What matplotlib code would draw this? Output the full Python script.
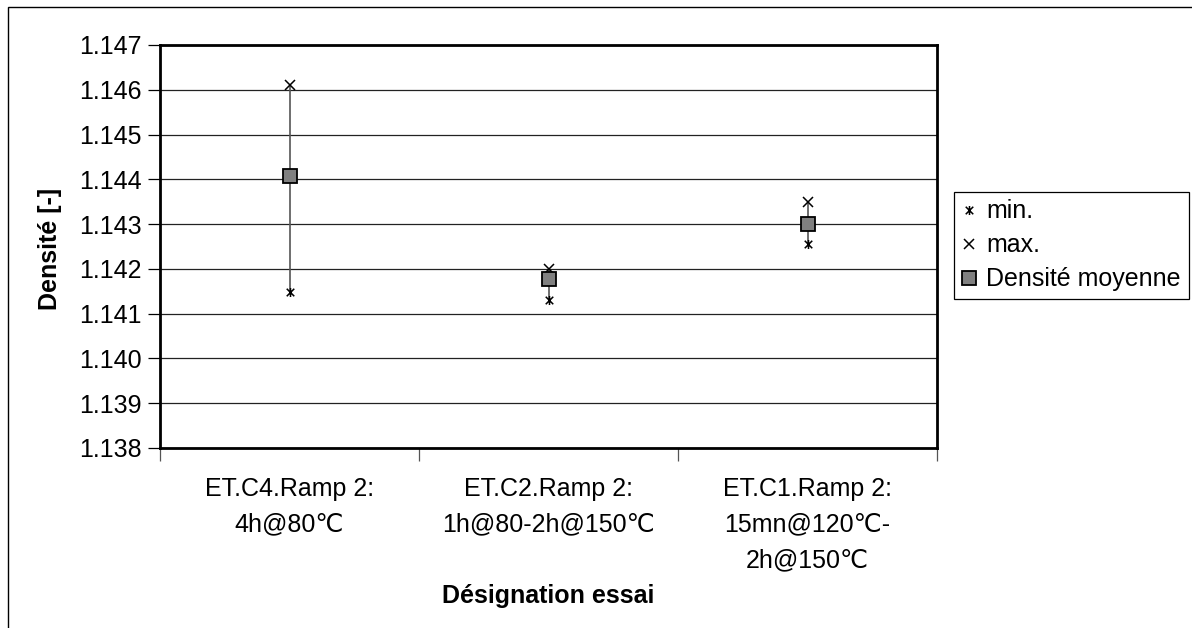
import matplotlib
matplotlib.use("Agg")
import matplotlib.pyplot as plt
from matplotlib.path import Path
from matplotlib.patches import Rectangle

plt.rcParams["font.family"] = ["Liberation Sans", "DejaVu Sans"]

categories = [
    "ET.C4.Ramp 2:\n4h@80℃",
    "ET.C2.Ramp 2:\n1h@80-2h@150℃",
    "ET.C1.Ramp 2:\n15mn@120℃-\n2h@150℃",
]
dens_min = [1.14149, 1.14131, 1.14256]
dens_max = [1.14611, 1.14200, 1.14350]
dens_moy = [1.14408, 1.14177, 1.14301]
y_ticks = [1.138, 1.139, 1.140, 1.141, 1.142, 1.143, 1.144, 1.145, 1.146, 1.147]

# star marker as drawn by Excel: an x with a vertical stroke
star = Path(
    [(-1, -1), (1, 1), (-1, 1), (1, -1), (0, -1.2), (0, 1.2)],
    [Path.MOVETO, Path.LINETO, Path.MOVETO, Path.LINETO, Path.MOVETO, Path.LINETO],
)

W, H = 1192, 628
fig = plt.figure(figsize=(W / 100, H / 100), dpi=100)
ax = fig.add_axes([160 / W, 1 - 448 / H, 777 / W, 403 / H])

xpos = [i + 0.5 for i in range(len(categories))]

# high-low lines
ax.vlines(xpos, dens_min, dens_max, color="#555555", lw=1.2, zorder=2)

ax.plot(xpos, dens_min, ls="none", marker=star, ms=6.5, mec="black",
        mfc="none", mew=1.1, label="min.", zorder=3)
ax.plot(xpos, dens_max, ls="none", marker="x", ms=6.5, mec="black",
        mew=1.1, label="max.", zorder=3)
ax.plot(xpos, dens_moy, ls="none", marker="s", ms=10, mfc="#808080",
        mec="black", mew=1.3, label="Densité moyenne", zorder=4)

ax.set_xlim(0, len(categories))
ax.set_ylim(y_ticks[0], y_ticks[-1])
ax.set_yticks(y_ticks)
ax.set_yticklabels([f"{v:.3f}" for v in y_ticks], fontsize=18)
ax.yaxis.grid(True, color="#222222", lw=0.9)
ax.set_axisbelow(True)

ax.set_xticks(range(len(categories) + 1))
ax.set_xticklabels([])
ax.set_xticks(xpos, minor=True)
ax.set_xticklabels(categories, minor=True, fontsize=18, linespacing=1.6)
ax.tick_params(axis="x", which="major", direction="out", length=9, width=0.9,
               color="#555555")
ax.tick_params(axis="x", which="minor", length=0, pad=21)
ax.tick_params(axis="y", direction="out", length=9, width=0.9, pad=4)

for sp in ax.spines.values():
    sp.set_linewidth(2.0)
    sp.set_color("black")

fig.text(50 / W, 1 - 249 / H, "Densité [-]", rotation=90, ha="center",
         va="center", fontsize=18, fontweight="bold")
fig.text(548 / W, 1 - 603 / H, "Désignation essai", ha="center",
         va="baseline", fontsize=18, fontweight="bold")

leg = ax.legend(loc="upper left", bbox_to_anchor=(954 / W, 1 - 192 / H),
                bbox_transform=fig.transFigure, fontsize=18, frameon=True,
                fancybox=False, framealpha=1, edgecolor="black",
                handlelength=0.6, handletextpad=0.4, borderpad=0.3,
                labelspacing=0.4, borderaxespad=0)
leg.get_frame().set_linewidth(0.9)

# outer chart-area border
fig.add_artist(Rectangle((8 / W, -0.2), 1.2, 1.2 - 7 / H,
                         transform=fig.transFigure, fill=False,
                         ec="black", lw=1.0))

fig.savefig("out.png", dpi=100)
